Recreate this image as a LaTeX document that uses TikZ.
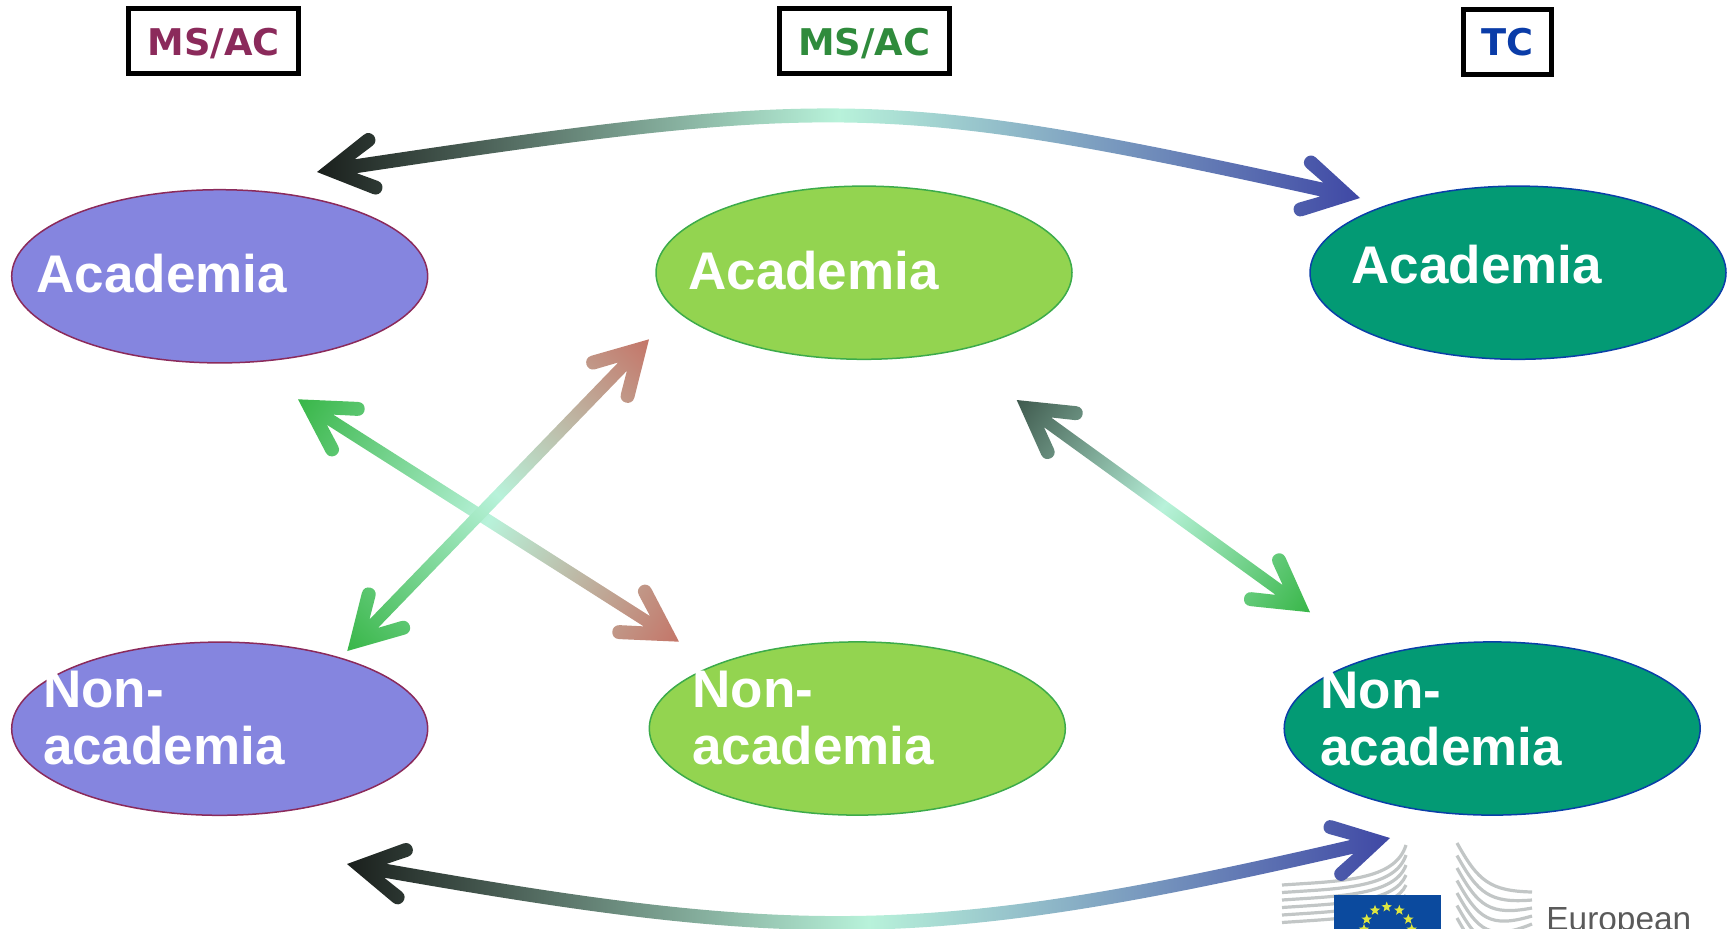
\documentclass[tikz,border=0pt]{standalone}
\usepackage{fontspec}
\setmainfont{Liberation Sans}
\newfontfamily\boxfont{DejaVu Sans}
\usetikzlibrary{calc,shapes.geometric}
\definecolor{cPurple}{HTML}{8585DF}
\definecolor{cPurpleB}{HTML}{8B2A5B}
\definecolor{cLime}{HTML}{93D450}
\definecolor{cLimeB}{HTML}{3CAB4A}
\definecolor{cTeal}{HTML}{039A74}
\definecolor{cTealB}{HTML}{0A3FA8}
\definecolor{cPale}{HTML}{B8F2DA}
\definecolor{cGreen}{HTML}{38B648}
\definecolor{cSalmon}{HTML}{C47568}
\definecolor{cDark}{HTML}{3F5A4E}
\definecolor{cBlack}{HTML}{1A1F1C}
\definecolor{cBlue}{HTML}{3F48A5}
\definecolor{cT1}{HTML}{8B2A5B}
\definecolor{cT2}{HTML}{2F8B3C}
\definecolor{cT3}{HTML}{0A3CA8}
\definecolor{cBuild}{HTML}{C2C6C6}
\definecolor{cFlag}{HTML}{0B4A9E}
\definecolor{cStar}{HTML}{DDE640}
\definecolor{cEU}{HTML}{5A5A5A}
\tikzset{
  oval/.style={ellipse,inner sep=0pt,outer sep=0pt,minimum width=208pt,minimum height=86.6pt,line width=0.75pt},
  ovalP/.style={oval,fill=cPurple,draw=cPurpleB},
  ovalL/.style={oval,fill=cLime,draw=cLimeB},
  ovalT/.style={oval,fill=cTeal,draw=cTealB},
  txt/.style={anchor=base west,inner sep=0pt,outer sep=0pt,text=white,align=left,
     font=\fontsize{26.5}{28.5}\selectfont\bfseries},
  tag/.style={draw=black,fill=white,line width=2.5pt,inner sep=0pt,minimum height=32.5pt,
     text height=14pt,text depth=0pt,font=\boxfont\fontsize{18.4}{20}\selectfont\bfseries},
  building/.style={draw=cBuild,line width=1.6pt},
  eustar/.style={star,star points=5,star point ratio=2.4,fill=cStar,inner sep=0pt,minimum size=5.5pt}
}
\def\hw{6}\def\hx{38}
\newcommand\MKHEAD[3]{%
  \foreach \nm/\uu/\vv in {c1/\hx/\hw,e1/59/17.9,k1/67.1/22.6,k2/60.1/34.7,e2/52/30,e3/52/-30,k3/60.1/-34.7,k4/67.1/-22.6,e4/59/-17.9,c2/\hx/-\hw}{%
    \coordinate (#1\nm) at ($(#2)+({#3}:\uu)+({#3+90}:\vv)$);}%
  \coordinate (#1t) at (#2);}
\newcommand\HEADP[1]{-- (#1e1) .. controls (#1k1) and (#1k2) .. (#1e2) -- (#1t) -- (#1e3) .. controls (#1k3) and (#1k4) .. (#1e4) -- (#1c2)}
\newcommand\GARROW[6]{% prefix, tipA, tipB, colours
  \path let \p1=($(#3)-(#2)$) in \pgfextra{%
    \pgfmathsetmacro\tmpL{2*veclen(\x1,\y1)}\pgfmathsetmacro\tmpA{atan2(\y1,\x1)}%
    \xdef\glen{\tmpL}\xdef\gang{\tmpA}};
  \begin{scope}[transform canvas={shift={(#2)},rotate=\gang}]
    \coordinate (#1a) at (0,0);
    \coordinate (#1b) at (\glen,0);
    \MKHEAD{#1p}{#1a}{0}
    \MKHEAD{#1q}{#1b}{180}
    \shade[left color=#4,right color=#6,middle color=#5] (#1pc1) \HEADP{#1p} -- (#1qc1) \HEADP{#1q} -- cycle;
  \end{scope}}
\begin{document}
\begin{tikzpicture}[x=0.5pt,y=-0.5pt]
\useasboundingbox (0,0) rectangle (1735,928);
% logo
\foreach \j in {0,...,5}{
  \pgfmathsetmacro\ly{885+7.5*\j}\pgfmathsetmacro\ey{845+10*\j}
  \draw[building] (1282,\ly) .. controls (1340,{\ly-4}) and (1395,{\ly-4-0.3*\j}) .. (1406,\ey);
}
\foreach \j in {0,...,7}{
  \pgfmathsetmacro\sy{843+12.5*\j}\pgfmathsetmacro\ey{892+8*\j}
  \draw[building] (1457,\sy) .. controls (1478,{\sy+38}) and (1490,{\sy+48}) .. (1532,\ey);
}
\node[fill=cFlag,inner sep=0pt,minimum width=53.4pt,minimum height=22pt,anchor=north west] (flag) at (1334,895) {};
\foreach \i/\xx/\yy in {1/1386.7/907,2/1375/910.3,3/1399.3/910.3,4/1366.7/919.3,5/1408.3/919.3,6/1364/929.3,7/1411.7/929.3}
  \node[eustar] (star\i) at (\xx,\yy) {};
\node[anchor=base west,inner sep=0pt,text=cEU,font=\fontsize{16.7}{18}\selectfont] (euro) at (1546,930.5) {European};
% tags
\node[tag,minimum width=84.9pt,text=cT1] (t1) at (213.7,41) {MS/AC};
\node[tag,minimum width=84.9pt,text=cT2] (t2) at (864.3,41) {MS/AC};
\node[tag,minimum width=44pt,text=cT3] (t3) at (1507.5,41.5) {TC};
% ovals
\node[ovalP] (pa) at (219.7,276.3) {};
\node[ovalP] (pn) at (219.7,728.7) {};
\node[ovalL] (la) at (864,272.7) {};
\node[ovalL] (ln) at (857.3,728.5) {};
\node[ovalT] (ta) at (1518,272.7) {};
\node[ovalT] (tn) at (1492.2,728.5) {};
% texts
\node[txt] (tpa) at (36.7,292) {Academia};
\node[txt] (tla) at (688.3,289.3) {Academia};
\node[txt] (tta) at (1351.7,283.3) {Academia};
\node[txt] (tpn) at (43,764) {Non-\\academia};
\node[txt] (tln) at (692.5,764.3) {Non-\\academia};
\node[txt] (ttn) at (1320.5,765) {Non-\\academia};
% arrow end points
\coordinate (x1a) at (298,399.3);
\coordinate (x1b) at (679,641.7);
\coordinate (x2a) at (347.3,651);
\coordinate (x2b) at (649,339.3);
\coordinate (x3a) at (1016.7,400);
\coordinate (x3b) at (1310,612.3);
\coordinate (top1) at (317,172);
\coordinate (top2) at (1360,198);
\coordinate (bot1) at (347,864);
\coordinate (bot2) at (1390,838);
% straight arrows
\GARROW{s1}{x1a}{x1b}{cGreen}{cPale}{cSalmon}
\GARROW{s2}{x2a}{x2b}{cGreen}{cPale}{cSalmon}
\GARROW{s3}{x3a}{x3b}{cDark}{cPale}{cGreen}
% curved arrows
\def\hw{7}\def\hx{39}
\MKHEAD{tp}{top1}{-8.5}
\MKHEAD{tq}{top2}{192.5}
\shade[left color=cBlack,right color=cBlue,middle color=cPale]
  (tpc1) \HEADP{tp} .. controls (830,88) and (892,88) .. (tqc1) \HEADP{tq} .. controls (892,102) and (830,102) .. (tpc1) -- cycle;
\MKHEAD{bp}{bot1}{10}
\MKHEAD{bq}{bot2}{167}
\shade[left color=cBlack,right color=cBlue,middle color=cPale]
  (bpc1) \HEADP{bp} .. controls (801,937) and (931,937) .. (bqc1) \HEADP{bq} .. controls (931,951) and (801,951) .. (bpc1) -- cycle;
\end{tikzpicture}
\end{document}
